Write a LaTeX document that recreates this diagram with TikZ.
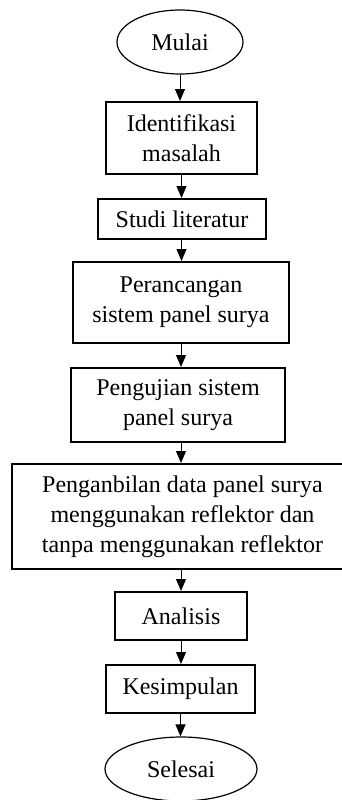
\documentclass[tikz,border=0pt]{standalone}
\usepackage{fontspec}
\setmainfont{Liberation Serif}
\usetikzlibrary{shapes.geometric,arrows.meta}
\begin{document}
\begin{tikzpicture}[x=1pt,y=1pt,
  every node/.style={font=\fontsize{24}{30}\selectfont, align=center, inner sep=0pt},
  procbox/.style={draw, line width=2pt, rectangle},
  termbox/.style={draw, line width=1.2pt, ellipse},
  flow/.style={draw, line width=1pt, -{Triangle[width=10pt,length=12pt]}}]
\useasboundingbox (0,0) rectangle (341,-800);
\node[termbox, minimum width=126, minimum height=64] (mulai) at (180,-42) {Mulai};
\node[procbox, minimum width=151, minimum height=72] (ident) at (181.5,-138) {Identifikasi\\masalah};
\node[procbox, minimum width=168, minimum height=40] (studi) at (182,-219) {Studi literatur};
\node[procbox, minimum width=216, minimum height=81] (peran) at (181,-302.5) {Perancangan\\sistem panel surya};
\node[procbox, minimum width=214, minimum height=74] (uji) at (178,-405) {Pengujian sistem\\panel surya};
\node[procbox, minimum width=360, minimum height=105] (ambil) at (192,-516.5) {\phantom{x}};
\node (ambiltext) at (182.5,-516.5) {Penganbilan data panel surya\\menggunakan reflektor dan\\tanpa menggunakan reflektor};
\node[procbox, minimum width=132, minimum height=48] (anal) at (181,-616) {Analisis};
\node[procbox, minimum width=149, minimum height=48] (kes) at (180.5,-689) {Kesimpulan};
\node[termbox, minimum width=152, minimum height=64] (selesai) at (181,-769) {Selesai};
\draw[flow] (mulai.south) -- (mulai.south |- ident.north);
\draw[flow] (ident.south) -- (ident.south |- studi.north);
\draw[flow] (studi.south -| ident.south) -- (ident.south |- peran.north);
\draw[flow] (peran.south) -- (peran.south |- uji.north);
\draw[flow] (peran.south |- uji.south) -- (peran.south |- ambil.north);
\draw[flow] (anal.north |- ambil.south) -- (anal.north);
\draw[flow] (anal.south) -- (anal.south |- kes.north);
\draw[flow] (kes.south) -- (kes.south |- selesai.north);
\end{tikzpicture}
\end{document}
